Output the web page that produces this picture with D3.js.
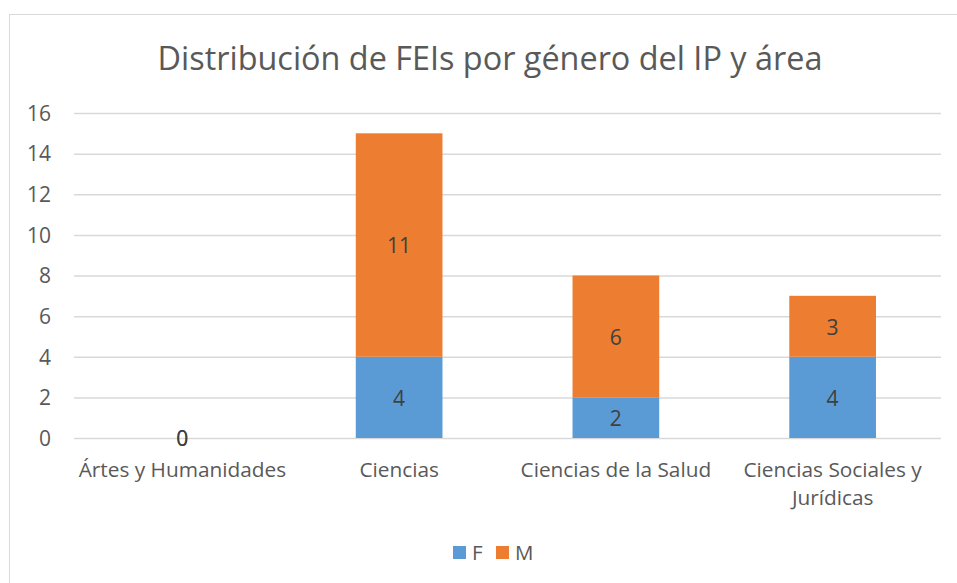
<!DOCTYPE html>
<html>
<head>
<meta charset="utf-8">
<script src="https://cdn.jsdelivr.net/npm/d3@7"></script>
<style>
  body { margin: 0; background: #fff; }
  text { font-family: "Open Sans", sans-serif; }
</style>
</head>
<body>
<svg id="chart" width="957" height="583"></svg>
<script>
const title = "Distribución de FEIs por género del IP y área";
const categories = ["Ártes y Humanidades", "Ciencias", "Ciencias de la Salud", "Ciencias Sociales y Jurídicas"];
const category_lines = [["Ártes y Humanidades"], ["Ciencias"], ["Ciencias de la Salud"], ["Ciencias Sociales y", "Jurídicas"]];
const series_names = ["F", "M"];
const values_f = [0, 4, 2, 4];
const values_m = [0, 11, 6, 3];
const y_ticks = [0, 2, 4, 6, 8, 10, 12, 14, 16];
const colors = ["#5B9BD5", "#ED7D31"];

let svg = d3.select("#chart"),
    margin = { top: 113, right: 16, bottom: 145, left: 74 },
    width = 957 - margin.left - margin.right,
    height = 583 - margin.top - margin.bottom;

// chart frame
svg.append("rect")
    .attr("x", 9.5).attr("y", 14.5)
    .attr("width", 960).attr("height", 600)
    .attr("fill", "#fff")
    .attr("stroke", "#D9D9D9");

svg.append("text")
    .attr("x", 490).attr("y", 70)
    .attr("text-anchor", "middle")
    .style("font-size", "32.4px")
    .style("fill", "#595959")
    .text(title);

let g = svg.append("g").attr("transform", "translate(" + margin.left + "," + margin.top + ")");

let x = d3.scaleBand().domain(categories).range([0, width]).padding(0),
    y = d3.scaleLinear().domain([0, 16]).range([height, 0]),
    bar_w = x.bandwidth() * 0.4;

// gridlines + y axis
let y_axis = g.append("g").attr("class", "axis axis--y")
    .call(d3.axisLeft(y).tickValues(y_ticks).tickSize(-width).tickPadding(23));
y_axis.select(".domain").remove();
y_axis.selectAll("line").attr("stroke", "#D9D9D9").attr("stroke-width", 1.5);
y_axis.selectAll("text")
    .style("font-size", "21px")
    .style("fill", "#595959")
    .attr("dy", "0.35em");

// stacked data
let table = categories.map((c, i) => ({ cat: c, F: values_f[i], M: values_m[i] })),
    stacked = d3.stack().keys(series_names)(table);

let layers = g.selectAll("g.layer")
    .data(stacked)
    .enter().append("g")
    .attr("class", "layer")
    .attr("fill", (d, i) => colors[i]);

layers.selectAll("rect")
    .data(d => d)
    .enter().append("rect")
    .attr("x", d => x(d.data.cat) + (x.bandwidth() - bar_w) / 2)
    .attr("y", d => y(d[1]))
    .attr("width", bar_w)
    .attr("height", d => y(d[0]) - y(d[1]));

// data labels
layers.selectAll("text")
    .data(d => d)
    .enter().append("text")
    .attr("x", d => x(d.data.cat) + x.bandwidth() / 2)
    .attr("y", d => (y(d[0]) + y(d[1])) / 2 + 1)
    .attr("dy", "0.35em")
    .attr("text-anchor", "middle")
    .style("font-size", "21px")
    .style("fill", "#404040")
    .text(d => d[1] - d[0]);

// x axis labels
let x_labels = g.append("g").attr("class", "axis axis--x")
    .selectAll("text")
    .data(categories)
    .enter().append("text")
    .attr("x", d => x(d) + x.bandwidth() / 2)
    .attr("y", height + 39)
    .attr("text-anchor", "middle")
    .style("font-size", "20.8px")
    .style("fill", "#595959");
x_labels.selectAll("tspan")
    .data((d, i) => category_lines[i])
    .enter().append("tspan")
    .attr("x", function () { return d3.select(this.parentNode).attr("x"); })
    .attr("dy", (d, i) => i === 0 ? 0 : 28)
    .text(d => d);

// legend
let legend = svg.append("g").attr("class", "legend"),
    legend_x = [453, 496];
series_names.forEach((s, i) => {
    legend.append("rect")
        .attr("x", legend_x[i]).attr("y", 546)
        .attr("width", 13).attr("height", 13)
        .attr("fill", colors[i]);
    legend.append("text")
        .attr("x", legend_x[i] + 19).attr("y", 560)
        .style("font-size", "20.5px")
        .style("fill", "#595959")
        .text(s);
});
</script>
</body>
</html>
